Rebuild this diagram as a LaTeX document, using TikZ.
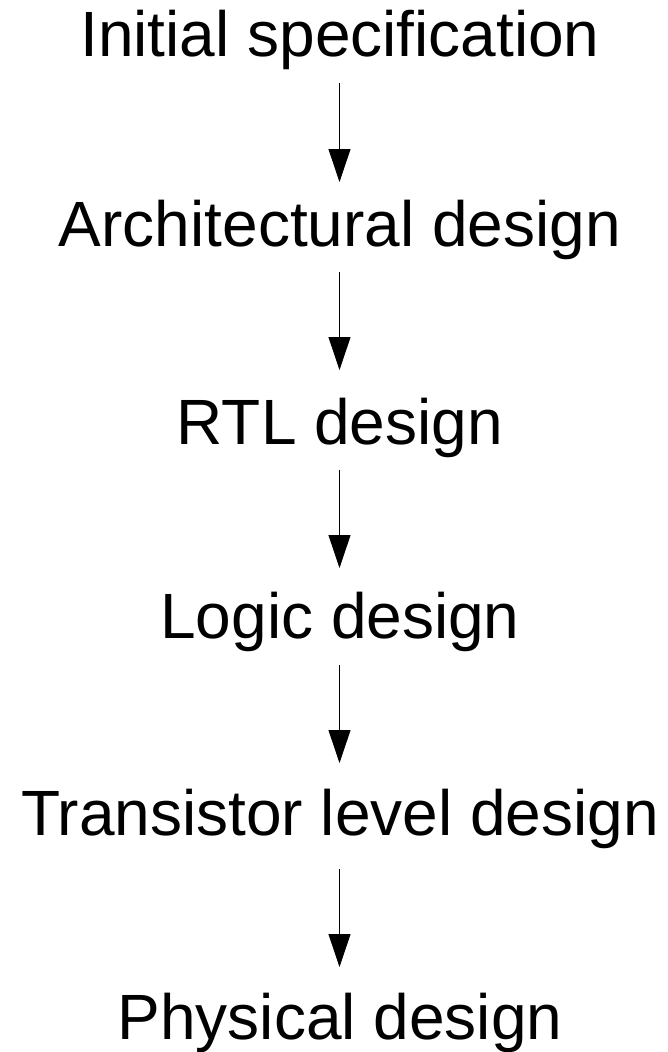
\documentclass[tikz,border=0pt]{standalone}
\usepackage{fontspec}
\setmainfont{Liberation Sans}
\usetikzlibrary{arrows.meta,calc}

\tikzset{
  stage/.style={anchor=base, inner sep=0pt, font=\fontsize{64}{76}\selectfont},
  flow/.style={line width=0.9pt, -{Triangle[length=33pt,width=22pt]}}
}

\begin{document}
\begin{tikzpicture}[x=1pt, y=-1pt]
  \useasboundingbox (0,0) rectangle (667,1052);

  % design flow stages (placed on their baselines)
  \node[stage] (spec)  at (340,56)    {Initial specification};
  \node[stage] (arch)  at (340,246.7) {Architectural design};
  \node[stage] (rtl)   at (340,444.3) {RTL design};
  \node[stage] (logic) at (340,638.3) {Logic design};
  \node[stage] (trans) at (340,835)   {Transistor level design};
  \node[stage] (phys)  at (340,1039)  {Physical design};

  % downward arrows between consecutive stages
  \draw[flow] ($(spec.base)+(-0.5,27)$)  -- ($(arch.base)+(-0.5,-64.7)$);
  \draw[flow] ($(arch.base)+(-0.5,25.6)$) -- ($(rtl.base)+(-0.5,-74.3)$);
  \draw[flow] ($(rtl.base)+(-0.5,26)$)   -- ($(logic.base)+(-0.5,-70.3)$);
  \draw[flow] ($(logic.base)+(-0.5,27)$) -- ($(trans.base)+(-0.5,-72)$);
  \draw[flow] ($(trans.base)+(-0.5,34)$) -- ($(phys.base)+(-0.5,-72)$);
\end{tikzpicture}
\end{document}
